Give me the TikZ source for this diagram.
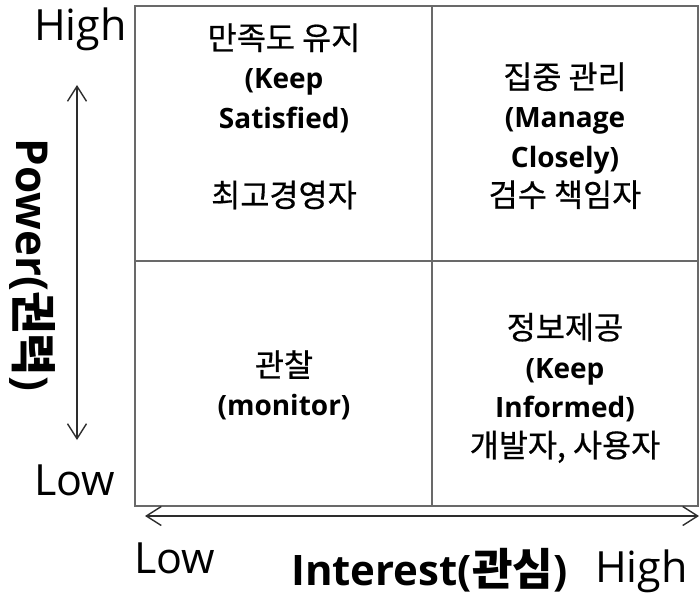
\documentclass[tikz,border=0pt]{standalone}
\usepackage{fontspec}
\setmainfont{Open Sans}
\newfontfamily\kr[Scale=1.13,FakeBold=0.6]{Noto Sans CJK KR}
\newfontfamily\krtitle[Scale=1.05]{Noto Sans CJK KR}
\usetikzlibrary{arrows.meta}

% Hangul text in the CJK family
\newcommand\hg[1]{{\kr #1}}
\newcommand\hgt[1]{{\krtitle\bfseries #1}}
% line strut: every line of a quadrant label is exactly one pitch tall
\newcommand\qstrut{\rule[-11.8bp]{0pt}{39.3bp}}

\definecolor{gridcol}{RGB}{105,105,105}
\definecolor{axiscol}{RGB}{45,45,45}

\tikzset{
  gridline/.style={draw=gridcol, line width=2bp},
  axisarrow/.style={draw=axiscol, line width=1.4bp,
    {Straight Barb[length=15bp,width=19bp]}-{Straight Barb[length=15bp,width=19bp]}},
  quad/.style={inner sep=0pt, align=center, anchor=north,
    font=\fontsize{28bp}{39.3bp}\selectfont},
  level/.style={inner sep=0pt, anchor=base west, font=\fontsize{43bp}{46bp}\selectfont},
  axistitle/.style={inner sep=0pt, font=\fontsize{42bp}{48bp}\selectfont\bfseries},
}

\begin{document}
\begin{tikzpicture}[x=1bp,y=-1bp]
  \useasboundingbox (0,0) rectangle (700,601);

  % grid corners and dividers
  \coordinate (nw) at (135,6);
  \coordinate (se) at (698,506);
  \coordinate (midtop) at (432,6);
  \coordinate (midbot) at (432,506);
  \coordinate (midleft) at (135,261);
  \coordinate (midright) at (698,261);

  \draw[gridline] (nw) rectangle (se);
  \draw[gridline] (midtop) -- (midbot);
  \draw[gridline] (midleft) -- (midright);

  % quadrant labels
  \node[quad] (satisfied) at (284,21.9)
    {\hg{만족도 유지}\qstrut\\
     \textbf{(Keep}\qstrut\\
     \textbf{Satisfied)}\qstrut\\
     \qstrut\\
     \hg{최고경영자}\qstrut};
  \node[quad] (closely) at (565,60.9)
    {\hg{집중 관리}\qstrut\\
     \textbf{(Manage}\qstrut\\
     \textbf{Closely)}\qstrut\\
     \hg{검수 책임자}\qstrut};
  \node[quad] (monitor) at (284,348.9)
    {\hg{관찰}\qstrut\\
     \textbf{(monitor)}\qstrut};
  \node[quad] (informed) at (565,311.4)
    {\hg{정보제공}\qstrut\\
     \textbf{(Keep}\qstrut\\
     \textbf{Informed)}\qstrut\\
     \hg{개발자, 사용자}\qstrut};

  % power axis
  \coordinate (ptop) at (77,85);
  \coordinate (pbot) at (77,440);
  \draw[axisarrow] (pbot) -- (ptop);
  \node[level] (phigh) at (34,41) {High};
  \node[level] (plow) at (34,495) {Low};
  \node[axistitle, rotate=-90, font=\fontsize{44bp}{48bp}\selectfont\bfseries]
    (power) at (33,265) {Power(\hgt{권력})};

  % interest axis
  \coordinate (ileft) at (145,516);
  \coordinate (iright) at (699,516);
  \draw[axisarrow] (ileft) -- (iright);
  \node[level] (ilow) at (134,573) {Low};
  \node[level] (ihigh) at (595,582) {High};
  \node[axistitle, anchor=base west] (interest) at (291,585)
    {Interest(\hgt{관심})};
\end{tikzpicture}
\end{document}
